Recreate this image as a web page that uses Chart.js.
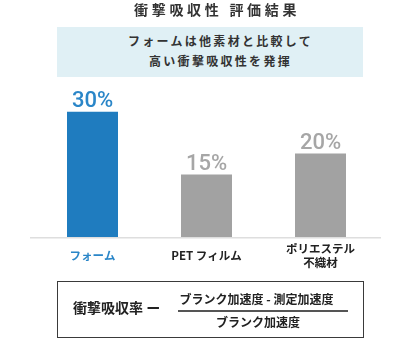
<!DOCTYPE html>
<html>
<head>
<meta charset="utf-8">
<script src="https://cdn.jsdelivr.net/npm/chart.js@4/dist/chart.umd.min.js"></script>
<style>
  html, body { margin: 0; padding: 0; background: #ffffff; }
  body { width: 411px; height: 338px; position: relative; overflow: hidden;
         font-family: "Noto Sans CJK JP", "Noto Sans", sans-serif; color: #333; }
  #wrap { position: absolute; left: 0; top: 0; width: 411px; height: 338px; }
  .abs { position: absolute; white-space: nowrap; }
  #title { left: 134px; top: -1px; font-weight: bold;
           font-size: 14px; line-height: 20px; letter-spacing: 3.7px; color: #333; }
  #note { left: 57px; top: 27px; width: 306px; height: 50px; background: #e0f0f5;
          text-align: center; font-weight: bold; font-size: 12px; line-height: 20px;
          letter-spacing: 2.3px; padding-top: 4px; padding-left: 21px; box-sizing: border-box; color: #333; }
  #formula { left: 57px; top: 281px; width: 307px; height: 57px; border: 1.5px solid #3a3a3a; box-sizing: border-box; }
  #lhs { left: 73px; top: 297px; font-weight: bold; font-size: 14px; line-height: 20px; color: #222; }
  #num { left: 158.5px; width: 196px; top: 290px; text-align: center; font-weight: bold; font-size: 12px; line-height: 18px; color: #222; }
  #bar { left: 178px; top: 310px; width: 170px; height: 1.5px; background: #555; }
  #den { left: 165px; width: 186px; top: 313px; text-align: center; font-weight: bold; font-size: 12px; line-height: 18px; color: #222; }
</style>
</head>
<body>
<div id="wrap"><canvas id="c"></canvas></div>
<div id="title" class="abs">衝撃吸収性 評価結果</div>
<div id="note" class="abs">フォームは他素材と比較して<br>高い衝撃吸収性を発揮</div>
<div id="formula" class="abs"></div>
<div id="lhs" class="abs">衝撃吸収率 ー</div>
<div id="num" class="abs">ブランク加速度 - 測定加速度</div>
<div id="bar" class="abs"></div>
<div id="den" class="abs">ブランク加速度</div>
<script>
const categories = [["フォーム"], ["PET フィルム"], ["ポリエステル", "不織材"]];
const absorptionRates = [30, 15, 20];
const barColors = ["#1f7cbf", "#a2a2a2", "#a2a2a2"];
const labelColors = ["#2a86c8", "#a6a6a6", "#a6a6a6"];
const tickColors = ["#2a86c8", "#222222", "#222222"];

const valueLabels = {
  id: "valueLabels",
  beforeDatasetsDraw(chart) {
    const ctx = chart.ctx;
    const a = chart.chartArea;
    ctx.save();
    ctx.strokeStyle = "#dedede";
    ctx.lineWidth = 1.5;
    ctx.beginPath();
    ctx.moveTo(a.left - 5.5, a.bottom + 0.75);
    ctx.lineTo(a.right + 3.5, a.bottom + 0.75);
    ctx.stroke();
    ctx.restore();
  },
  afterDatasetsDraw(chart) {
    const ctx = chart.ctx;
    const meta = chart.getDatasetMeta(0);
    ctx.save();
    ctx.font = "500 22px Roboto";
    ctx.textAlign = "center";
    ctx.textBaseline = "alphabetic";
    meta.data.forEach((el, i) => {
      ctx.fillStyle = labelColors[i];
      ctx.fillText(absorptionRates[i] + "%", el.x, el.y - 4.5);
    });
    ctx.restore();
  }
};

new Chart(document.getElementById("c"), {
  type: "bar",
  data: {
    labels: categories,
    datasets: [{
      data: absorptionRates,
      backgroundColor: barColors,
      borderWidth: 0,
      categoryPercentage: 1,
      barPercentage: 51 / 114
    }]
  },
  options: {
    responsive: true,
    maintainAspectRatio: false,
    animation: false,
    devicePixelRatio: 1,
    layout: { padding: { left: 35.5, right: 33.5, top: 91, bottom: 0 } },
    plugins: { legend: { display: false }, tooltip: { enabled: false } },
    scales: {
      y: { display: false, min: 0, max: 35 },
      x: {
        grid: { display: false, drawTicks: false },
        border: { display: false },
        ticks: {
          color: tickColors,
          font: { family: "Noto Sans CJK JP", size: 11.5, weight: "bold", lineHeight: 14 / 11.5 },
          padding: 12,
          crossAlign: "center",
          autoSkip: false,
          maxRotation: 0
        },
        afterFit(scale) { scale.height = 101; }
      }
    }
  },
  plugins: [valueLabels]
});
</script>
</body>
</html>
